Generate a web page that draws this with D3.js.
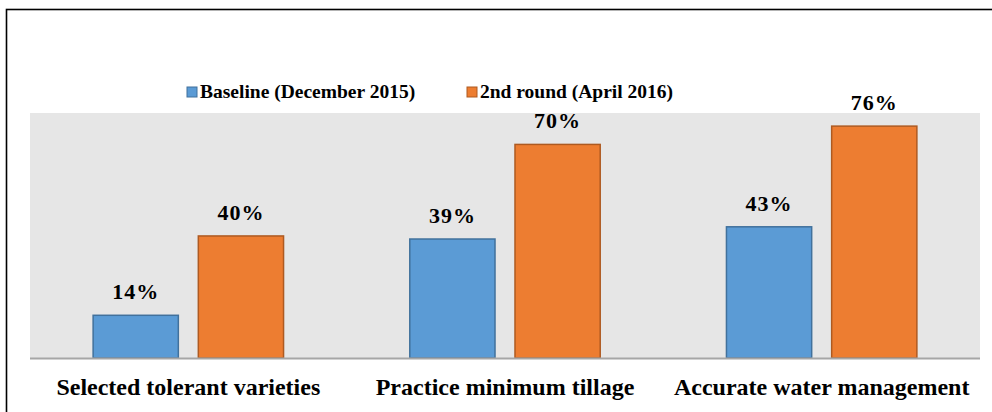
<!DOCTYPE html>
<html>
<head>
<meta charset="utf-8">
<script src="https://cdn.jsdelivr.net/npm/d3@7"></script>
<style>
  body { margin: 0; background: #fff; overflow: hidden; }
  text { font-family: "Liberation Serif", "DejaVu Serif", serif; font-weight: bold; fill: #000; }
</style>
</head>
<body>
<script>
var categories = ["Selected tolerant varieties", "Practice minimum tillage", "Accurate water management"];
var seriesNames = ["Baseline (December 2015)", "2nd round (April 2016)"];
var baseline = [14, 39, 43];
var secondRound = [40, 70, 76];
var colors = ["#5b9bd5", "#ed7d31"];
var strokes = ["#41719c", "#ae5a21"];

var width = 992, height = 412;
var svg = d3.select("body").append("svg")
  .attr("width", width)
  .attr("height", height);

// outer frame (runs off the right/bottom edges)
svg.append("rect")
  .attr("x", 6.5).attr("y", 9.5)
  .attr("width", 1100).attr("height", 500)
  .attr("fill", "#fff")
  .attr("stroke", "#000")
  .attr("stroke-width", 1.6);

var plot = {left: 30, right: 980, top: 113, bottom: 358};

svg.append("rect")
  .attr("x", plot.left).attr("y", plot.top)
  .attr("width", plot.right - plot.left)
  .attr("height", plot.bottom - plot.top)
  .attr("fill", "#e6e6e6");

var x0 = d3.scaleBand().domain(categories)
  .range([plot.left, plot.right]).paddingInner(0).paddingOuter(0);
var x1 = d3.scaleBand().domain([0, 1])
  .range([0, x0.bandwidth()]).paddingInner(0.19).paddingOuter(0.6);
var y = d3.scaleLinear().domain([0, 80.3]).range([plot.bottom, plot.bottom - 245]);

var rows = categories.map(function(c, i) {
  return {cat: c, vals: [baseline[i], secondRound[i]]};
});

var groups = svg.selectAll(".grp").data(rows).enter().append("g")
  .attr("class", "grp")
  .attr("transform", function(d) { return "translate(" + x0(d.cat) + ",0)"; });

groups.selectAll("rect").data(function(d) {
    return d.vals.map(function(v, s) { return {v: v, s: s}; });
  }).enter().append("rect")
  .attr("x", function(d) { return x1(d.s); })
  .attr("y", function(d) { return y(d.v); })
  .attr("width", x1.bandwidth())
  .attr("height", function(d) { return y(0) - y(d.v); })
  .attr("fill", function(d) { return colors[d.s]; })
  .attr("stroke", function(d) { return strokes[d.s]; })
  .attr("stroke-width", 1.5);

groups.selectAll(".lbl").data(function(d) {
    return d.vals.map(function(v, s) { return {v: v, s: s}; });
  }).enter().append("text")
  .attr("class", "lbl")
  .attr("x", function(d) { return x1(d.s) + x1.bandwidth() / 2; })
  .attr("y", function(d) { return y(d.v) - 16; })
  .attr("text-anchor", "middle")
  .style("font-size", "22px")
  .style("letter-spacing", "1px")
  .text(function(d) { return d.v + "%"; });

// axis line
svg.append("line")
  .attr("x1", plot.left).attr("x2", plot.right)
  .attr("y1", plot.bottom + 0.5).attr("y2", plot.bottom + 0.5)
  .attr("stroke", "#a6a6a6").attr("stroke-width", 2);

var xAxis = d3.axisBottom(x0).tickSize(0).tickPadding(0);
var ax = svg.append("g").attr("transform", "translate(0," + (plot.bottom + 37) + ")").call(xAxis);
ax.select(".domain").remove();
ax.selectAll("text")
  .style("font-size", "24px")
  .attr("dy", "0");

// legend
var legendX = [187, 467];
var leg = svg.selectAll(".leg").data(seriesNames).enter().append("g")
  .attr("class", "leg")
  .attr("transform", function(d, i) { return "translate(" + legendX[i] + ",87)"; });
leg.append("rect")
  .attr("width", 10).attr("height", 10)
  .attr("fill", function(d, i) { return colors[i]; })
  .attr("stroke", function(d, i) { return strokes[i]; });
leg.append("text")
  .attr("x", 13).attr("y", 11)
  .style("font-size", "19.5px")
  .text(function(d) { return d; });
</script>
</body>
</html>
